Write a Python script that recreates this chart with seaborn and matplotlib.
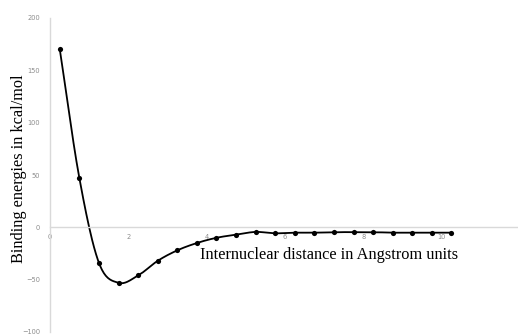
import numpy as np
import matplotlib
matplotlib.use("Agg")
import matplotlib.pyplot as plt
import seaborn as sns
import pandas as pd

# Data
distance = [0.25, 0.75, 1.25, 1.75, 2.25, 2.75, 3.25, 3.75, 4.25, 4.75, 5.25,
            5.75, 6.25, 6.75, 7.25, 7.75, 8.25, 8.75, 9.25, 9.75, 10.25]
energy = [170, 47, -34, -53, -46, -32, -22, -15, -10, -7, -4.4,
          -5.7, -5.1, -5.1, -4.6, -4.6, -4.6, -5.1, -5.1, -5.1, -5.1]
x_ticks = [0, 2, 4, 6, 8, 10]
y_ticks = [-100, -50, 0, 50, 100, 150, 200]

df = pd.DataFrame({"distance": distance, "energy": energy})


def smooth(xs, ys, n=20):
    # Catmull-Rom smoothing of the drawn line (like a spreadsheet "smoothed line")
    xs = np.asarray(xs, float)
    ys = np.asarray(ys, float)
    P = np.column_stack([xs, ys])
    P = np.vstack([2 * P[0] - P[1], P, 2 * P[-1] - P[-2]])
    out = []
    t = np.linspace(0, 1, n, endpoint=False)
    for i in range(1, len(P) - 2):
        p0, p1, p2, p3 = P[i - 1], P[i], P[i + 1], P[i + 2]
        tt = t[:, None]
        seg = 0.5 * ((2 * p1) + (-p0 + p2) * tt + (2 * p0 - 5 * p1 + 4 * p2 - p3) * tt ** 2
                     + (-p0 + 3 * p1 - 3 * p2 + p3) * tt ** 3)
        out.append(seg)
    out.append(P[-2][None, :])
    out = np.vstack(out)
    return out[:, 0], out[:, 1]


sns.set_style("white")
plt.rcParams["font.family"] = ["DejaVu Sans"]

fig = plt.figure(figsize=(5.18, 3.35), dpi=100)
ax = fig.add_axes([50 / 518, 3 / 335, 1 - 50 / 518, 1 - 21 / 335])

sx, sy = smooth(distance, energy)
sns.lineplot(x=sx, y=sy, ax=ax, color="black", linewidth=1.3, sort=False, estimator=None)
sns.scatterplot(data=df, x="distance", y="energy", ax=ax, color="black", s=14,
                edgecolor="black", linewidth=0, zorder=5)

ax.set_xlim(0, 11.95)
ax.set_ylim(-100, 200)
ax.set_xticks(x_ticks)
ax.set_yticks(y_ticks)

for s in ["top", "right"]:
    ax.spines[s].set_visible(False)
ax.spines["bottom"].set_position(("data", 0))
ax.spines["left"].set_position(("data", 0))
for s in ["bottom", "left"]:
    ax.spines[s].set_color("#d9d9d9")
    ax.spines[s].set_linewidth(1.0)

ax.tick_params(axis="both", length=0, labelsize=4.8, labelcolor="#8c8c8c")
ax.tick_params(axis="y", pad=7)
ax.tick_params(axis="x", pad=5)

ax.set_xlabel("")
ax.set_ylabel("")
fig.text(0.036, 0.495, "Binding energies in kcal/mol", rotation=90, ha="center", va="center",
         family="Liberation Serif", fontsize=11.7, color="black")
ax.text(3.83, -26, "Internuclear distance in Angstrom units", ha="left", va="center",
        family="Liberation Serif", fontsize=11.8, color="black")

fig.savefig("out.png", dpi=100)
